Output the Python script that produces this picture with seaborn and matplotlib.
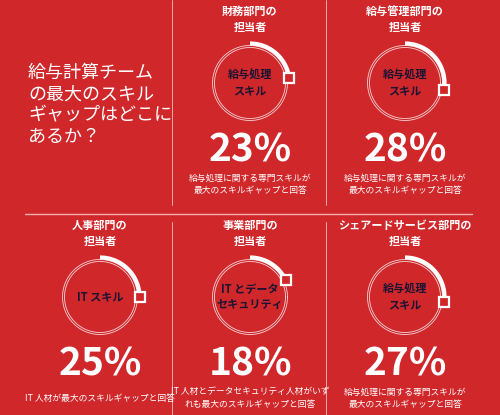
import numpy as np
import matplotlib
matplotlib.use("Agg")
import matplotlib.pyplot as plt
import seaborn as sns

sns.set_theme(style="white")
plt.rcParams['font.family'] = ['Noto Sans CJK JP', 'DejaVu Sans']

departments = ["財務部門の\n担当者", "給与管理部門の\n担当者", "人事部門の\n担当者", "事業部門の\n担当者", "シェアードサービス部門の\n担当者"]
skills = ["給与処理\nスキル", "給与処理\nスキル", "IT スキル", "IT とデータ\nセキュリティ", "給与処理\nスキル"]
percents = [23, 28, 25, 18, 27]
captions = ["給与処理に関する専門スキルが\n最大のスキルギャップと回答",
            "給与処理に関する専門スキルが\n最大のスキルギャップと回答",
            "IT 人材が最大のスキルギャップと回答",
            "IT 人材とデータセキュリティ人材がいず\nれも最大のスキルギャップと回答",
            "給与処理に関する専門スキルが\n最大のスキルギャップと回答"]
heading = "給与計算チーム\nの最大のスキル\nギャップはどこに\nあるか？"

RED = "#D0272B"
NAVY = "#1a1433"
fig = plt.figure(figsize=(5.0, 4.15), dpi=100, facecolor=RED)
ax = fig.add_axes([0, 0, 1, 1])
ax.set_facecolor(RED)
ax.set_xlim(0, 500); ax.set_ylim(415, 0); ax.axis("off")

centers = [(250, 0), (405, 0), (100, 214), (250, 214), (405, 214)]
R = 38
for (cx, top), dept, sk, p, cap in zip(centers, departments, skills, percents, captions):
    cy = top + 83
    ax.text(cx, top + 19, dept, ha="center", va="center", color="white", fontsize=8, fontweight="bold", linespacing=1.3)
    t = np.linspace(0, 2*np.pi, 300)
    for r in (R - 2.5, R - 0.5):
        ax.plot(cx + r*np.cos(t), cy + r*np.sin(t), color="white", lw=0.6, alpha=0.8)
    a = np.linspace(0, p/100*2*np.pi, 100)
    ax.plot(cx + (R + 1.5)*np.sin(a), cy - (R + 1.5)*np.cos(a), color="white", lw=3, solid_capstyle="butt")
    ax.plot(cx + (R + 1.5)*np.sin(a[-1]), cy - (R + 1.5)*np.cos(a[-1]), marker="s", ms=7, mfc=RED, mec="white", mew=1.6)
    ax.text(cx, cy, sk, ha="center", va="center", color=NAVY, fontsize=8, fontweight="bold", linespacing=1.2)
    ax.text(cx, top + 150, f"{p}%", ha="center", va="center", color="white", fontsize=28, fontweight="bold")
    ax.text(cx, top + 184, cap, ha="center", va="center", color="white", fontsize=6.3, linespacing=1.45)

ax.plot([172, 172], [0, 205], color="white", lw=0.6, alpha=0.7)
ax.plot([326, 326], [0, 205], color="white", lw=0.6, alpha=0.7)
ax.plot([172, 172], [222, 415], color="white", lw=0.6, alpha=0.7)
ax.plot([326, 326], [222, 415], color="white", lw=0.6, alpha=0.7)
ax.plot([25, 472], [214, 214], color="#f3b0b0", lw=1)
ax.text(28, 105, heading, ha="left", va="center", color="white", fontsize=13, linespacing=1.25)

fig.savefig("out.png", dpi=100, facecolor=RED)
